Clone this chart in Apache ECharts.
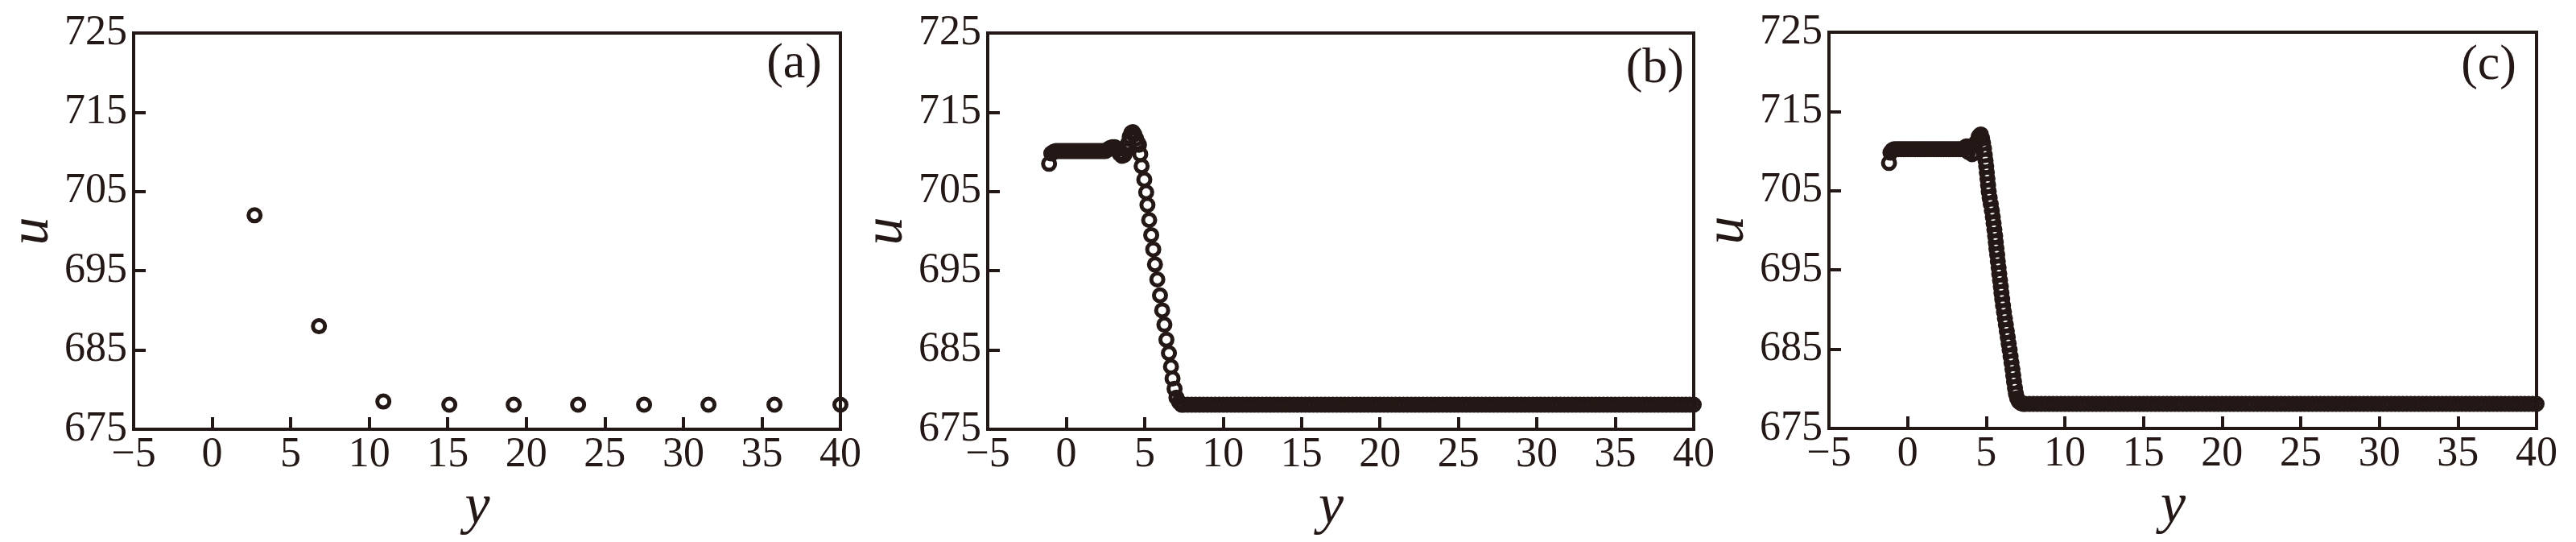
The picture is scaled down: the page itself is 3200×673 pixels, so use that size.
<!DOCTYPE html>
<html>
<head>
<meta charset="utf-8">
<title>u vs y</title>
<script src="https://cdn.jsdelivr.net/npm/echarts@6.0.0/dist/echarts.min.js"></script>
<style>
  html, body { margin: 0; padding: 0; background: #fff; }
  #chart { width: 3200px; height: 673px; }
</style>
</head>
<body>
<div id="chart"></div>
<script>
// panel (a): coarse grid
const A_Y = [2.7, 6.8, 10.9, 15.1, 19.2, 23.3, 27.5, 31.6, 35.8, 40]
const A_U = [702.0, 688.0, 678.5, 678.1, 678.1, 678.1, 678.1, 678.1, 678.1, 678.1]

// panel (b): head + front
const B_Y = [
  -1.09, -0.95, -0.8,
  -0.65, -0.5, -0.35, -0.2, -0.05, 0.1, 0.25, 0.4, 0.55, 0.7, 0.85,
  1.0, 1.15, 1.3, 1.45, 1.6, 1.75, 1.9, 2.05, 2.2, 2.35, 2.5,
  2.65, 2.8, 2.95, 3.1, 3.25, 3.4, 3.55, 3.7,
  3.85, 3.95, 4.05, 4.15, 4.25, 4.35, 4.45, 4.55,
  4.64, 4.72, 4.81, 4.98, 5.1, 5.18, 5.29, 5.42, 5.55, 5.66, 5.81,
  5.98, 6.12, 6.26, 6.39, 6.55, 6.68, 6.78, 6.91, 7.03, 7.2, 7.35,
]
const B_U = [
  708.5, 709.8, 710.0,
  710.1, 710.1, 710.1, 710.1, 710.1, 710.1, 710.1, 710.1, 710.1, 710.1, 710.1,
  710.1, 710.1, 710.1, 710.1, 710.1, 710.1, 710.1, 710.1, 710.1, 710.1, 710.1,
  710.3, 710.5, 710.6, 710.6, 710.3, 709.8, 709.5, 709.6,
  710.2, 711.1, 711.9, 712.4, 712.5, 712.2, 711.7, 711.2,
  710.9, 709.7, 708.2, 706.5, 704.9, 703.3, 701.4, 699.5, 697.7, 695.8, 693.9,
  691.9, 690.0, 688.2, 686.3, 684.6, 682.9, 681.4, 680.1, 679.0, 678.4, 678.1,
]

// panel (c): head + front (finer grid)
const C_Y = [
  -1.18, -1.09, -0.98,
  -0.85, -0.7, -0.55, -0.4, -0.25, -0.1, 0.05, 0.2, 0.35, 0.5,
  0.65, 0.8, 0.95, 1.1, 1.25, 1.4, 1.55, 1.7, 1.85, 2.0,
  2.15, 2.3, 2.45, 2.6, 2.75, 2.9, 3.05, 3.2, 3.35, 3.5,
  3.62, 3.74, 3.86, 3.98, 4.1, 4.22, 4.34, 4.44, 4.52, 4.6, 4.66,
  4.74, 4.8, 4.86, 4.91, 4.96, 5.0, 5.04, 5.08, 5.12, 5.16,
  5.22, 5.29, 5.36, 5.42, 5.47, 5.52, 5.57, 5.61, 5.65, 5.7,
  5.74, 5.79, 5.83, 5.88, 5.93, 5.97, 6.02, 6.07, 6.13, 6.19,
  6.25, 6.31, 6.37, 6.43, 6.49, 6.55, 6.61, 6.67, 6.72, 6.77,
  6.83, 6.89, 6.97, 7.07, 7.2, 7.35,
]
const C_U = [
  708.5, 709.8, 710.1,
  710.25, 710.25, 710.25, 710.25, 710.25, 710.25, 710.25, 710.25, 710.25, 710.25,
  710.25, 710.25, 710.25, 710.25, 710.25, 710.25, 710.25, 710.25, 710.25, 710.25,
  710.25, 710.25, 710.25, 710.25, 710.25, 710.25, 710.25, 710.25, 710.25, 710.25,
  710.4, 710.6, 709.9, 710.6, 709.6, 710.8, 709.8, 711.3, 711.8, 712.0, 712.1,
  711.6, 711.0, 710.3, 709.5, 708.8, 708.1, 707.3, 706.5, 705.7, 704.9,
  704.1, 703.3, 702.5, 701.7, 700.9, 700.1, 699.3, 698.5, 697.7, 696.9,
  696.1, 695.3, 694.5, 693.7, 692.9, 692.1, 691.3, 690.5, 689.7, 688.9,
  688.1, 687.3, 686.5, 685.7, 684.9, 684.1, 683.3, 682.5, 681.7, 680.9,
  680.1, 679.4, 678.8, 678.4, 678.2, 678.1,
]

// flat tail behind the front, shared by (b) and (c)
const TAIL_Y = [
  7.5, 7.75, 8, 8.25, 8.5, 8.75, 9, 9.25, 9.5, 9.75,
  10, 10.25, 10.5, 10.75, 11, 11.25, 11.5, 11.75, 12, 12.25, 12.5, 12.75,
  13, 13.25, 13.5, 13.75, 14, 14.25, 14.5, 14.75, 15, 15.25, 15.5, 15.75,
  16, 16.25, 16.5, 16.75, 17, 17.25, 17.5, 17.75, 18, 18.25, 18.5, 18.75,
  19, 19.25, 19.5, 19.75, 20, 20.25, 20.5, 20.75, 21, 21.25, 21.5, 21.75,
  22, 22.25, 22.5, 22.75, 23, 23.25, 23.5, 23.75, 24, 24.25, 24.5, 24.75,
  25, 25.25, 25.5, 25.75, 26, 26.25, 26.5, 26.75, 27, 27.25, 27.5, 27.75,
  28, 28.25, 28.5, 28.75, 29, 29.25, 29.5, 29.75, 30, 30.25, 30.5, 30.75,
  31, 31.25, 31.5, 31.75, 32, 32.25, 32.5, 32.75, 33, 33.25, 33.5, 33.75,
  34, 34.25, 34.5, 34.75, 35, 35.25, 35.5, 35.75, 36, 36.25, 36.5, 36.75,
  37, 37.25, 37.5, 37.75, 38, 38.25, 38.5, 38.75, 39, 39.25, 39.5, 39.75, 40,
]
const TAIL_U = 678.1

const PANEL_LABELS = ['(a)', '(b)', '(c)']
const X_MIN = -5
const X_MAX = 40
const X_STEP = 5
const U_MIN = 675
const U_MAX = 725
const U_STEP = 10

const INK = '#231815'
const SERIF = '"Liberation Serif", "Times New Roman", serif'

// grid boxes, px
const GRIDS = [
  { left: 166, right: 2156, top: 41, bottom: 140 },
  { left: 1227, right: 1096, top: 41, bottom: 140 },
  { left: 2272, right: 49, top: 40, bottom: 141 },
]
const LABEL_POS = [
  { right: 2174, top: 44 },
  { right: 1103, top: 50 },
  { right: 69, top: 46 },
]

const toPairs = (ys, us) => ys.map((y, i) => [y, us[i]])
const panelData = [
  toPairs(A_Y, A_U),
  toPairs(B_Y, B_U).concat(TAIL_Y.map((y) => [y, TAIL_U])),
  toPairs(C_Y, C_U).concat(TAIL_Y.map((y) => [y, TAIL_U])),
]

const chart = echarts.init(document.getElementById('chart'), null, { renderer: 'canvas' })

const axisLine = { show: true, onZero: false, lineStyle: { color: INK, width: 4 } }
const axisTick = { show: true, inside: true, length: 15, lineStyle: { color: INK, width: 4 } }

chart.setOption({
  animation: false,
  backgroundColor: '#fff',
  title: PANEL_LABELS.map((text, i) => ({
    text,
    right: LABEL_POS[i].right,
    top: LABEL_POS[i].top,
    textStyle: { color: INK, fontFamily: SERIF, fontSize: 62, fontWeight: 'normal' },
  })),
  grid: GRIDS.map((g) => ({
    ...g,
    show: true,
    borderColor: INK,
    borderWidth: 4,
    backgroundColor: 'transparent',
    outerBoundsMode: 'none',
  })),
  xAxis: GRIDS.map((g, i) => ({
    gridIndex: i,
    type: 'value',
    min: X_MIN,
    max: X_MAX,
    interval: X_STEP,
    name: 'y',
    nameLocation: 'middle',
    nameGap: 43,
    nameTextStyle: {
      color: INK,
      fontFamily: SERIF,
      fontStyle: 'italic',
      fontSize: 70,
      padding: [0, 24, 0, 0],
    },
    axisLine,
    axisTick,
    splitLine: { show: false },
    axisLabel: {
      color: INK,
      fontFamily: SERIF,
      fontSize: 52,
      margin: 6,
      formatter: (v) => String(v).replace('-', '\u2212'),
    },
  })),
  yAxis: GRIDS.map((g, i) => ({
    gridIndex: i,
    type: 'value',
    min: U_MIN,
    max: U_MAX,
    interval: U_STEP,
    name: 'u',
    nameLocation: 'middle',
    nameGap: 90,
    nameTextStyle: {
      color: INK,
      fontFamily: SERIF,
      fontStyle: 'italic',
      fontSize: 70,
    },
    axisLine,
    axisTick,
    splitLine: { show: false },
    axisLabel: {
      color: INK,
      fontFamily: SERIF,
      fontSize: 52,
      margin: 8,
    },
  })),
  series: panelData.map((data, i) => ({
    type: 'scatter',
    xAxisIndex: i,
    yAxisIndex: i,
    data,
    symbol: 'circle',
    symbolSize: 15,
    clip: true,
    itemStyle: {
      color: 'transparent',
      borderColor: INK,
      borderWidth: 5,
      opacity: 1,
    },
    emphasis: { disabled: true },
  })),
})
</script>
</body>
</html>
